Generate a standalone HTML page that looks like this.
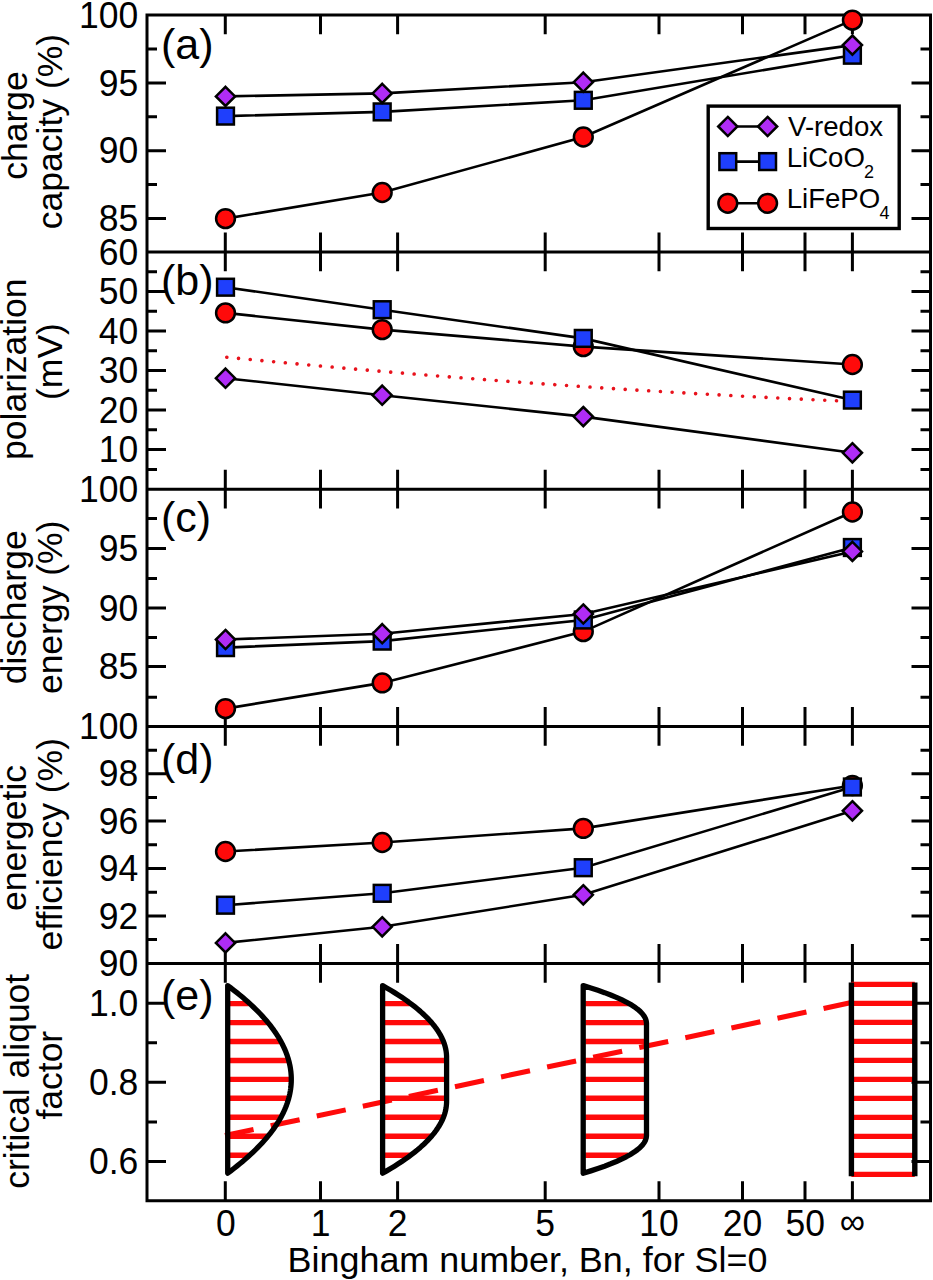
<!DOCTYPE html>
<html><head><meta charset="utf-8"><style>html,body{margin:0;padding:0;background:#fff;width:933px;height:1280px;overflow:hidden}svg{display:block}</style></head>
<body><svg width="933" height="1280" viewBox="0 0 933 1280"><rect x="0" y="0" width="933" height="1280" fill="#fff"/>
<path d="M147.0 15.0H930.5V1200.8H147.0ZM147.0 252.0H930.5M147.0 489.2H930.5M147.0 726.4H930.5M147.0 963.5H930.5" stroke="#000" stroke-width="3.0" fill="none" stroke-linejoin="miter"/>
<path d="M147.0 82.9h19.0M930.5 82.9h-19.0M147.0 150.7h19.0M930.5 150.7h-19.0M147.0 218.4h19.0M930.5 218.4h-19.0M147.0 48.9h10.0M930.5 48.9h-10.0M147.0 116.8h10.0M930.5 116.8h-10.0M147.0 184.5h10.0M930.5 184.5h-10.0M225.3 15.0v19.3M225.3 252.0v-19.5M320.5 15.0v19.3M320.5 252.0v-19.5M397.6 15.0v19.3M397.6 252.0v-19.5M545.2 15.0v19.3M545.2 252.0v-19.5M659.0 15.0v19.3M659.0 252.0v-19.5M742.5 15.0v19.3M742.5 252.0v-19.5M805.0 15.0v19.3M805.0 252.0v-19.5M852.4 15.0v19.3M852.4 252.0v-19.5M147.0 291.5h19.0M930.5 291.5h-19.0M147.0 331.0h19.0M930.5 331.0h-19.0M147.0 370.5h19.0M930.5 370.5h-19.0M147.0 410.0h19.0M930.5 410.0h-19.0M147.0 449.6h19.0M930.5 449.6h-19.0M147.0 271.7h10.0M930.5 271.7h-10.0M147.0 311.3h10.0M930.5 311.3h-10.0M147.0 350.8h10.0M930.5 350.8h-10.0M147.0 390.3h10.0M930.5 390.3h-10.0M147.0 429.8h10.0M930.5 429.8h-10.0M147.0 469.4h10.0M930.5 469.4h-10.0M225.3 252.0v19.3M225.3 489.2v-19.5M320.5 252.0v19.3M320.5 489.2v-19.5M397.6 252.0v19.3M397.6 489.2v-19.5M545.2 252.0v19.3M545.2 489.2v-19.5M659.0 252.0v19.3M659.0 489.2v-19.5M742.5 252.0v19.3M742.5 489.2v-19.5M805.0 252.0v19.3M805.0 489.2v-19.5M852.4 252.0v19.3M852.4 489.2v-19.5M147.0 548.5h19.0M930.5 548.5h-19.0M147.0 607.9h19.0M930.5 607.9h-19.0M147.0 666.4h19.0M930.5 666.4h-19.0M147.0 518.6h10.0M930.5 518.6h-10.0M147.0 578.5h10.0M930.5 578.5h-10.0M147.0 637.4h10.0M930.5 637.4h-10.0M147.0 697.3h10.0M930.5 697.3h-10.0M225.3 489.2v19.3M225.3 726.4v-19.5M320.5 489.2v19.3M320.5 726.4v-19.5M397.6 489.2v19.3M397.6 726.4v-19.5M545.2 489.2v19.3M545.2 726.4v-19.5M659.0 489.2v19.3M659.0 726.4v-19.5M742.5 489.2v19.3M742.5 726.4v-19.5M805.0 489.2v19.3M805.0 726.4v-19.5M852.4 489.2v19.3M852.4 726.4v-19.5M147.0 773.8h19.0M930.5 773.8h-19.0M147.0 821.0h19.0M930.5 821.0h-19.0M147.0 868.5h19.0M930.5 868.5h-19.0M147.0 916.0h19.0M930.5 916.0h-19.0M147.0 750.3h10.0M930.5 750.3h-10.0M147.0 797.4h10.0M930.5 797.4h-10.0M147.0 844.8h10.0M930.5 844.8h-10.0M147.0 892.2h10.0M930.5 892.2h-10.0M147.0 939.6h10.0M930.5 939.6h-10.0M225.3 726.4v19.3M225.3 963.5v-19.5M320.5 726.4v19.3M320.5 963.5v-19.5M397.6 726.4v19.3M397.6 963.5v-19.5M545.2 726.4v19.3M545.2 963.5v-19.5M659.0 726.4v19.3M659.0 963.5v-19.5M742.5 726.4v19.3M742.5 963.5v-19.5M805.0 726.4v19.3M805.0 963.5v-19.5M852.4 726.4v19.3M852.4 963.5v-19.5M147.0 1003.3h19.0M930.5 1003.3h-19.0M147.0 1082.3h19.0M930.5 1082.3h-19.0M147.0 1161.5h19.0M930.5 1161.5h-19.0M147.0 1042.7h10.0M930.5 1042.7h-10.0M147.0 1121.9h10.0M930.5 1121.9h-10.0M225.3 963.5v19.3M225.3 1200.8v-19.5M320.5 963.5v19.3M320.5 1200.8v-19.5M397.6 963.5v19.3M397.6 1200.8v-19.5M545.2 963.5v19.3M545.2 1200.8v-19.5M659.0 963.5v19.3M659.0 1200.8v-19.5M742.5 963.5v19.3M742.5 1200.8v-19.5M805.0 963.5v19.3M805.0 1200.8v-19.5M852.4 963.5v19.3M852.4 1200.8v-19.5" stroke="#000" stroke-width="3.0" fill="none"/>
<g font-family='"Liberation Sans", sans-serif' font-size="35.5" fill="#000" stroke="#000" stroke-width="0"><text transform="translate(138.3,27.6) scale(1,1.035)" text-anchor="end">100</text><text transform="translate(138.3,95.5) scale(1,1.035)" text-anchor="end">95</text><text transform="translate(138.3,163.3) scale(1,1.035)" text-anchor="end">90</text><text transform="translate(138.3,231.0) scale(1,1.035)" text-anchor="end">85</text><text transform="translate(138.3,264.6) scale(1,1.035)" text-anchor="end">60</text><text transform="translate(138.3,304.1) scale(1,1.035)" text-anchor="end">50</text><text transform="translate(138.3,343.6) scale(1,1.035)" text-anchor="end">40</text><text transform="translate(138.3,383.1) scale(1,1.035)" text-anchor="end">30</text><text transform="translate(138.3,422.6) scale(1,1.035)" text-anchor="end">20</text><text transform="translate(138.3,462.2) scale(1,1.035)" text-anchor="end">10</text><text transform="translate(138.3,501.8) scale(1,1.035)" text-anchor="end">100</text><text transform="translate(138.3,561.1) scale(1,1.035)" text-anchor="end">95</text><text transform="translate(138.3,620.5) scale(1,1.035)" text-anchor="end">90</text><text transform="translate(138.3,679.0) scale(1,1.035)" text-anchor="end">85</text><text transform="translate(138.3,739.0) scale(1,1.035)" text-anchor="end">100</text><text transform="translate(138.3,786.4) scale(1,1.035)" text-anchor="end">98</text><text transform="translate(138.3,833.6) scale(1,1.035)" text-anchor="end">96</text><text transform="translate(138.3,881.1) scale(1,1.035)" text-anchor="end">94</text><text transform="translate(138.3,928.6) scale(1,1.035)" text-anchor="end">92</text><text transform="translate(138.3,976.0) scale(1,1.035)" text-anchor="end">90</text><text transform="translate(138.3,1015.9) scale(1,1.035)" text-anchor="end">1.0</text><text transform="translate(138.3,1094.9) scale(1,1.035)" text-anchor="end">0.8</text><text transform="translate(138.3,1174.1) scale(1,1.035)" text-anchor="end">0.6</text></g>
<g font-family='"Liberation Sans", sans-serif' font-size="43" fill="#000" stroke="#000" stroke-width="0"><text transform="translate(161,59.0)">(a)</text><text transform="translate(161,294.9)">(b)</text><text transform="translate(161,532.3)">(c)</text><text transform="translate(161,774.2)">(d)</text><text transform="translate(161,1009.5)">(e)</text></g>
<g font-family='"Liberation Sans", sans-serif' font-size="35.5" fill="#000" stroke="#000" stroke-width="0"><text transform="translate(225.8,1235.8) scale(1,1.035)" text-anchor="middle">0</text><text transform="translate(320.5,1235.8) scale(1,1.035)" text-anchor="middle">1</text><text transform="translate(397.6,1235.8) scale(1,1.035)" text-anchor="middle">2</text><text transform="translate(545.2,1235.8) scale(1,1.035)" text-anchor="middle">5</text><text transform="translate(659.0,1235.8) scale(1,1.035)" text-anchor="middle">10</text><text transform="translate(742.5,1235.8) scale(1,1.035)" text-anchor="middle">20</text><text transform="translate(805.3,1235.8) scale(1,1.035)" text-anchor="middle">50</text><text transform="translate(852.4,1233.5) scale(1,1.035)" text-anchor="middle">&#8734;</text></g>
<text x="287.6" y="1272.2" font-family='"Liberation Sans", sans-serif' font-size="35.9" fill="#000" stroke="#000" stroke-width="0">Bingham number, Bn, for Sl=0</text>
<g font-family='"Liberation Sans", sans-serif' font-size="35.5" fill="#000" stroke="#000" stroke-width="0"><text transform="translate(26.5,125.5) rotate(-90)" text-anchor="middle">charge</text><text transform="translate(61.5,131.5) rotate(-90)" text-anchor="middle">capacity (%)</text><text transform="translate(26.0,369.2) rotate(-90)" text-anchor="middle">polarization</text><text transform="translate(61.5,361.5) rotate(-90)" text-anchor="middle">(mV)</text><text transform="translate(26.0,607.3) rotate(-90)" text-anchor="middle">discharge</text><text transform="translate(61.8,607.3) rotate(-90)" text-anchor="middle">energy (%)</text><text transform="translate(26.0,838.0) rotate(-90)" text-anchor="middle">energetic</text><text transform="translate(62.0,844.2) rotate(-90)" text-anchor="middle">efficiency (%)</text><text transform="translate(28.8,1081.3) rotate(-90)" text-anchor="middle">critical aliquot</text><text transform="translate(62.0,1075.2) rotate(-90)" text-anchor="middle">factor</text></g>
<polyline points="226.8,357.21 237.2,358.22 247.7,359.23 258.1,360.23 268.5,361.22 278.9,362.20 289.4,363.17 299.8,364.13 310.2,365.08 320.6,366.02 331.1,366.95 341.5,367.88 351.9,368.79 362.3,369.69 372.8,370.59 383.2,371.47 393.6,372.35 404.1,373.21 414.5,374.07 424.9,374.92 435.3,375.75 445.8,376.58 456.2,377.40 466.6,378.21 477.0,379.01 487.5,379.80 497.9,380.58 508.3,381.35 518.7,382.11 529.2,382.87 539.6,383.61 550.0,384.34 560.5,385.07 570.9,385.78 581.3,386.49 591.7,387.18 602.2,387.87 612.6,388.55 623.0,389.21 633.4,389.87 643.9,390.52 654.3,391.16 664.7,391.79 675.1,392.41 685.6,393.02 696.0,393.62 706.4,394.21 716.9,394.79 727.3,395.37 737.7,395.93 748.1,396.48 758.6,397.03 769.0,397.56 779.4,398.09 789.8,398.61 800.3,399.11 810.7,399.61 821.1,400.10 831.5,400.58 842.0,401.04 852.4,401.50" stroke="#e8121c" stroke-width="3.6" stroke-linecap="round" stroke-dasharray="0.01 11.746" fill="none"/>
<polyline points="225.5,218.6 382.2,192.5 583.3,137.0 852.4,20.1" stroke="#000" stroke-width="2.6" fill="none"/>
<polyline points="225.5,116.1 382.2,111.9 583.3,100.3 852.4,55.2" stroke="#000" stroke-width="2.6" fill="none"/>
<polyline points="225.5,96.4 382.2,93.4 583.3,82.2 852.4,45.1" stroke="#000" stroke-width="2.6" fill="none"/>
<circle cx="225.5" cy="218.6" r="9.4" fill="#ff0a0a" stroke="#000" stroke-width="2.5"/>
<circle cx="382.2" cy="192.5" r="9.4" fill="#ff0a0a" stroke="#000" stroke-width="2.5"/>
<circle cx="583.3" cy="137.0" r="9.4" fill="#ff0a0a" stroke="#000" stroke-width="2.5"/>
<circle cx="852.4" cy="20.1" r="9.4" fill="#ff0a0a" stroke="#000" stroke-width="2.5"/>
<rect x="217.1" y="107.69999999999999" width="16.8" height="16.8" fill="#1f3ffc" stroke="#000" stroke-width="2.5"/>
<rect x="373.8" y="103.5" width="16.8" height="16.8" fill="#1f3ffc" stroke="#000" stroke-width="2.5"/>
<rect x="574.9" y="91.89999999999999" width="16.8" height="16.8" fill="#1f3ffc" stroke="#000" stroke-width="2.5"/>
<rect x="844.0" y="46.800000000000004" width="16.8" height="16.8" fill="#1f3ffc" stroke="#000" stroke-width="2.5"/>
<path d="M225.5 86.80000000000001L235.1 96.4L225.5 106.0L215.9 96.4Z" fill="#b02cf6" stroke="#000" stroke-width="2.5" stroke-linejoin="miter"/>
<path d="M382.2 83.80000000000001L391.8 93.4L382.2 103.0L372.59999999999997 93.4Z" fill="#b02cf6" stroke="#000" stroke-width="2.5" stroke-linejoin="miter"/>
<path d="M583.3 72.60000000000001L592.9 82.2L583.3 91.8L573.6999999999999 82.2Z" fill="#b02cf6" stroke="#000" stroke-width="2.5" stroke-linejoin="miter"/>
<path d="M852.4 35.5L862.0 45.1L852.4 54.7L842.8 45.1Z" fill="#b02cf6" stroke="#000" stroke-width="2.5" stroke-linejoin="miter"/>
<polyline points="225.5,312.9 382.2,329.6 583.3,346.6 852.4,364.5" stroke="#000" stroke-width="2.6" fill="none"/>
<polyline points="225.5,287.2 382.2,309.7 583.3,338.4 852.4,400.1" stroke="#000" stroke-width="2.6" fill="none"/>
<polyline points="225.5,378.2 382.2,395.2 583.3,416.6 852.4,452.8" stroke="#000" stroke-width="2.6" fill="none"/>
<circle cx="225.5" cy="312.9" r="9.4" fill="#ff0a0a" stroke="#000" stroke-width="2.5"/>
<circle cx="382.2" cy="329.6" r="9.4" fill="#ff0a0a" stroke="#000" stroke-width="2.5"/>
<circle cx="583.3" cy="346.6" r="9.4" fill="#ff0a0a" stroke="#000" stroke-width="2.5"/>
<circle cx="852.4" cy="364.5" r="9.4" fill="#ff0a0a" stroke="#000" stroke-width="2.5"/>
<rect x="217.1" y="278.8" width="16.8" height="16.8" fill="#1f3ffc" stroke="#000" stroke-width="2.5"/>
<rect x="373.8" y="301.3" width="16.8" height="16.8" fill="#1f3ffc" stroke="#000" stroke-width="2.5"/>
<rect x="574.9" y="330.0" width="16.8" height="16.8" fill="#1f3ffc" stroke="#000" stroke-width="2.5"/>
<rect x="844.0" y="391.70000000000005" width="16.8" height="16.8" fill="#1f3ffc" stroke="#000" stroke-width="2.5"/>
<path d="M225.5 368.59999999999997L235.1 378.2L225.5 387.8L215.9 378.2Z" fill="#b02cf6" stroke="#000" stroke-width="2.5" stroke-linejoin="miter"/>
<path d="M382.2 385.59999999999997L391.8 395.2L382.2 404.8L372.59999999999997 395.2Z" fill="#b02cf6" stroke="#000" stroke-width="2.5" stroke-linejoin="miter"/>
<path d="M583.3 407.0L592.9 416.6L583.3 426.20000000000005L573.6999999999999 416.6Z" fill="#b02cf6" stroke="#000" stroke-width="2.5" stroke-linejoin="miter"/>
<path d="M852.4 443.2L862.0 452.8L852.4 462.40000000000003L842.8 452.8Z" fill="#b02cf6" stroke="#000" stroke-width="2.5" stroke-linejoin="miter"/>
<polyline points="225.5,708.6 382.2,682.9 583.3,631.6 852.4,512.0" stroke="#000" stroke-width="2.6" fill="none"/>
<polyline points="225.5,647.6 382.2,641.1 583.3,620.0 852.4,547.5" stroke="#000" stroke-width="2.6" fill="none"/>
<polyline points="225.5,639.5 382.2,633.7 583.3,614.0 852.4,551.4" stroke="#000" stroke-width="2.6" fill="none"/>
<circle cx="225.5" cy="708.6" r="9.4" fill="#ff0a0a" stroke="#000" stroke-width="2.5"/>
<circle cx="382.2" cy="682.9" r="9.4" fill="#ff0a0a" stroke="#000" stroke-width="2.5"/>
<circle cx="583.3" cy="631.6" r="9.4" fill="#ff0a0a" stroke="#000" stroke-width="2.5"/>
<circle cx="852.4" cy="512.0" r="9.4" fill="#ff0a0a" stroke="#000" stroke-width="2.5"/>
<rect x="217.1" y="639.2" width="16.8" height="16.8" fill="#1f3ffc" stroke="#000" stroke-width="2.5"/>
<rect x="373.8" y="632.7" width="16.8" height="16.8" fill="#1f3ffc" stroke="#000" stroke-width="2.5"/>
<rect x="574.9" y="611.6" width="16.8" height="16.8" fill="#1f3ffc" stroke="#000" stroke-width="2.5"/>
<rect x="844.0" y="539.1" width="16.8" height="16.8" fill="#1f3ffc" stroke="#000" stroke-width="2.5"/>
<path d="M225.5 629.9L235.1 639.5L225.5 649.1L215.9 639.5Z" fill="#b02cf6" stroke="#000" stroke-width="2.5" stroke-linejoin="miter"/>
<path d="M382.2 624.1L391.8 633.7L382.2 643.3000000000001L372.59999999999997 633.7Z" fill="#b02cf6" stroke="#000" stroke-width="2.5" stroke-linejoin="miter"/>
<path d="M583.3 604.4L592.9 614.0L583.3 623.6L573.6999999999999 614.0Z" fill="#b02cf6" stroke="#000" stroke-width="2.5" stroke-linejoin="miter"/>
<path d="M852.4 541.8L862.0 551.4L852.4 561.0L842.8 551.4Z" fill="#b02cf6" stroke="#000" stroke-width="2.5" stroke-linejoin="miter"/>
<polyline points="225.5,851.5 382.2,842.5 583.3,828.4 852.4,785.5" stroke="#000" stroke-width="2.6" fill="none"/>
<polyline points="225.5,905.2 382.2,893.3 583.3,867.7 852.4,787.0" stroke="#000" stroke-width="2.6" fill="none"/>
<polyline points="225.5,942.9 382.2,926.8 583.3,894.8 852.4,810.8" stroke="#000" stroke-width="2.6" fill="none"/>
<circle cx="225.5" cy="851.5" r="9.4" fill="#ff0a0a" stroke="#000" stroke-width="2.5"/>
<circle cx="382.2" cy="842.5" r="9.4" fill="#ff0a0a" stroke="#000" stroke-width="2.5"/>
<circle cx="583.3" cy="828.4" r="9.4" fill="#ff0a0a" stroke="#000" stroke-width="2.5"/>
<circle cx="852.4" cy="785.5" r="9.4" fill="#ff0a0a" stroke="#000" stroke-width="2.5"/>
<rect x="217.1" y="896.8000000000001" width="16.8" height="16.8" fill="#1f3ffc" stroke="#000" stroke-width="2.5"/>
<rect x="373.8" y="884.9" width="16.8" height="16.8" fill="#1f3ffc" stroke="#000" stroke-width="2.5"/>
<rect x="574.9" y="859.3000000000001" width="16.8" height="16.8" fill="#1f3ffc" stroke="#000" stroke-width="2.5"/>
<rect x="844.0" y="778.6" width="16.8" height="16.8" fill="#1f3ffc" stroke="#000" stroke-width="2.5"/>
<path d="M225.5 933.3L235.1 942.9L225.5 952.5L215.9 942.9Z" fill="#b02cf6" stroke="#000" stroke-width="2.5" stroke-linejoin="miter"/>
<path d="M382.2 917.1999999999999L391.8 926.8L382.2 936.4L372.59999999999997 926.8Z" fill="#b02cf6" stroke="#000" stroke-width="2.5" stroke-linejoin="miter"/>
<path d="M583.3 885.1999999999999L592.9 894.8L583.3 904.4L573.6999999999999 894.8Z" fill="#b02cf6" stroke="#000" stroke-width="2.5" stroke-linejoin="miter"/>
<path d="M852.4 801.1999999999999L862.0 810.8L852.4 820.4L842.8 810.8Z" fill="#b02cf6" stroke="#000" stroke-width="2.5" stroke-linejoin="miter"/>
<rect x="708.2" y="106.1" width="191" height="122.4" fill="#fff" stroke="#000" stroke-width="3.4"/>
<path d="M727.8 126.5H767.6M727.8 161.6H767.6M727.8 203.3H767.6" stroke="#000" stroke-width="2.6"/>
<path d="M727.8 116.9L737.4 126.5L727.8 136.1L718.1999999999999 126.5Z" fill="#b02cf6" stroke="#000" stroke-width="2.5" stroke-linejoin="miter"/>
<path d="M767.6 116.9L777.2 126.5L767.6 136.1L758.0 126.5Z" fill="#b02cf6" stroke="#000" stroke-width="2.5" stroke-linejoin="miter"/>
<rect x="719.4" y="153.2" width="16.8" height="16.8" fill="#1f3ffc" stroke="#000" stroke-width="2.5"/>
<rect x="759.2" y="153.2" width="16.8" height="16.8" fill="#1f3ffc" stroke="#000" stroke-width="2.5"/>
<circle cx="727.8" cy="203.3" r="9.4" fill="#ff0a0a" stroke="#000" stroke-width="2.5"/>
<circle cx="767.6" cy="203.3" r="9.4" fill="#ff0a0a" stroke="#000" stroke-width="2.5"/>
<g font-family='"Liberation Sans", sans-serif' font-size="27.6" fill="#000" stroke="#000" stroke-width="0"><text x="788" y="135.7">V-redox</text><text x="786.7" y="167.4">LiCoO</text><text x="864" y="178.1" font-size="18">2</text><text x="786.7" y="207.9">LiFePO</text><text x="879.5" y="218.6" font-size="18">4</text></g>
<path d="M229.7 1003.6H248.8M229.7 1022.6H266.9M229.7 1041.5H279.9M229.7 1060.5H287.7M229.7 1079.4H290.3M229.7 1098.3H287.7M229.7 1117.3H279.9M229.7 1136.2H266.9M229.7 1155.2H248.8M384.6 1003.6H409.7M384.6 1022.6H430.5M384.6 1041.5H442.5M384.6 1060.5H445.6M384.6 1079.4H445.6M384.6 1098.3H445.6M384.6 1117.3H442.5M384.6 1136.2H430.5M384.6 1155.2H409.7M585.2 1003.6H628.1M585.2 1022.6H645.5M585.2 1041.5H645.5M585.2 1060.5H645.5M585.2 1079.4H645.5M585.2 1098.3H645.5M585.2 1117.3H645.5M585.2 1136.2H645.5M585.2 1155.2H628.1M851.4 984.4H914.8M851.4 1003.4H914.8M851.4 1022.4H914.8M851.4 1041.4H914.8M851.4 1060.4H914.8M851.4 1079.4H914.8M851.4 1098.4H914.8M851.4 1117.4H914.8M851.4 1136.4H914.8M851.4 1155.4H914.8M851.4 1174.4H914.8" stroke="#ff0a0a" stroke-width="5.4" fill="none"/>
<path d="M225 1135.5L851.4 1002.5" stroke="#ff0a0a" stroke-width="5.1" stroke-dasharray="29.6 17.5" stroke-dashoffset="0.4" fill="none"/>
<path d="M227.7 985.6L227.70 985.60L230.84 987.95L233.90 990.29L236.88 992.63L239.78 994.98L242.61 997.33L245.35 999.67L248.01 1002.01L250.60 1004.36L253.10 1006.71L255.53 1009.05L257.87 1011.39L260.14 1013.74L262.32 1016.09L264.43 1018.43L266.46 1020.77L268.40 1023.12L270.27 1025.46L272.06 1027.81L273.77 1030.15L275.40 1032.50L276.95 1034.85L278.42 1037.19L279.81 1039.54L281.12 1041.88L282.36 1044.23L283.51 1046.57L284.58 1048.91L285.58 1051.26L286.49 1053.61L287.32 1055.95L288.08 1058.30L288.76 1060.64L289.35 1062.99L289.87 1065.33L290.31 1067.67L290.66 1070.02L290.94 1072.37L291.14 1074.71L291.26 1077.06L291.30 1079.40L291.26 1081.75L291.14 1084.09L290.94 1086.43L290.66 1088.78L290.31 1091.12L289.87 1093.47L289.35 1095.82L288.76 1098.16L288.08 1100.51L287.32 1102.85L286.49 1105.19L285.58 1107.54L284.58 1109.88L283.51 1112.23L282.36 1114.58L281.12 1116.92L279.81 1119.27L278.42 1121.61L276.95 1123.95L275.40 1126.30L273.77 1128.64L272.06 1130.99L270.27 1133.34L268.40 1135.68L266.46 1138.03L264.43 1140.37L262.32 1142.72L260.14 1145.06L257.87 1147.40L255.53 1149.75L253.10 1152.10L250.60 1154.44L248.01 1156.79L245.35 1159.13L242.61 1161.48L239.78 1163.82L236.88 1166.16L233.90 1168.51L230.84 1170.86L227.70 1173.20ZM382.6 985.6L382.60 985.60L386.71 987.95L390.69 990.29L394.53 992.63L398.23 994.98L401.80 997.33L405.23 999.67L408.52 1002.01L411.67 1004.36L414.69 1006.71L417.58 1009.05L420.33 1011.39L422.94 1013.74L425.41 1016.09L427.75 1018.43L429.95 1020.77L432.01 1023.12L433.94 1025.46L435.73 1027.81L437.38 1030.15L438.90 1032.50L440.28 1034.85L441.53 1037.19L442.64 1039.54L443.61 1041.88L444.45 1044.23L445.14 1046.57L445.71 1048.91L446.13 1051.26L446.42 1053.61L446.57 1055.95L446.60 1058.30L446.60 1060.64L446.60 1062.99L446.60 1065.33L446.60 1067.67L446.60 1070.02L446.60 1072.37L446.60 1074.71L446.60 1077.06L446.60 1079.40L446.60 1081.75L446.60 1084.09L446.60 1086.43L446.60 1088.78L446.60 1091.12L446.60 1093.47L446.60 1095.82L446.60 1098.16L446.60 1100.51L446.57 1102.85L446.42 1105.19L446.13 1107.54L445.71 1109.88L445.14 1112.23L444.45 1114.58L443.61 1116.92L442.64 1119.27L441.53 1121.61L440.28 1123.95L438.90 1126.30L437.38 1128.64L435.73 1130.99L433.94 1133.34L432.01 1135.68L429.95 1138.03L427.75 1140.37L425.41 1142.72L422.94 1145.06L420.33 1147.40L417.58 1149.75L414.69 1152.10L411.67 1154.44L408.52 1156.79L405.23 1159.13L401.80 1161.48L398.23 1163.82L394.53 1166.16L390.69 1168.51L386.71 1170.86L382.60 1173.20ZM583.2 985.6L583.20 985.60L590.81 987.95L597.93 990.29L604.57 992.63L610.72 994.98L616.38 997.33L621.55 999.67L626.24 1002.01L630.44 1004.36L634.15 1006.71L637.38 1009.05L640.12 1011.39L642.37 1013.74L644.13 1016.09L645.41 1018.43L646.19 1020.77L646.50 1023.12L646.50 1025.46L646.50 1027.81L646.50 1030.15L646.50 1032.50L646.50 1034.85L646.50 1037.19L646.50 1039.54L646.50 1041.88L646.50 1044.23L646.50 1046.57L646.50 1048.91L646.50 1051.26L646.50 1053.61L646.50 1055.95L646.50 1058.30L646.50 1060.64L646.50 1062.99L646.50 1065.33L646.50 1067.67L646.50 1070.02L646.50 1072.37L646.50 1074.71L646.50 1077.06L646.50 1079.40L646.50 1081.75L646.50 1084.09L646.50 1086.43L646.50 1088.78L646.50 1091.12L646.50 1093.47L646.50 1095.82L646.50 1098.16L646.50 1100.51L646.50 1102.85L646.50 1105.19L646.50 1107.54L646.50 1109.88L646.50 1112.23L646.50 1114.58L646.50 1116.92L646.50 1119.27L646.50 1121.61L646.50 1123.95L646.50 1126.30L646.50 1128.64L646.50 1130.99L646.50 1133.34L646.50 1135.68L646.19 1138.03L645.41 1140.37L644.13 1142.72L642.37 1145.06L640.12 1147.40L637.38 1149.75L634.15 1152.10L630.44 1154.44L626.24 1156.79L621.55 1159.13L616.38 1161.48L610.72 1163.82L604.57 1166.16L597.93 1168.51L590.81 1170.86L583.20 1173.20Z" stroke="#000" stroke-width="5.3" fill="none" stroke-linejoin="round"/>
<path d="M851.4 982.5V1176.3M914.8 982.5V1176.3" stroke="#000" stroke-width="5.4"/></svg></body></html>
